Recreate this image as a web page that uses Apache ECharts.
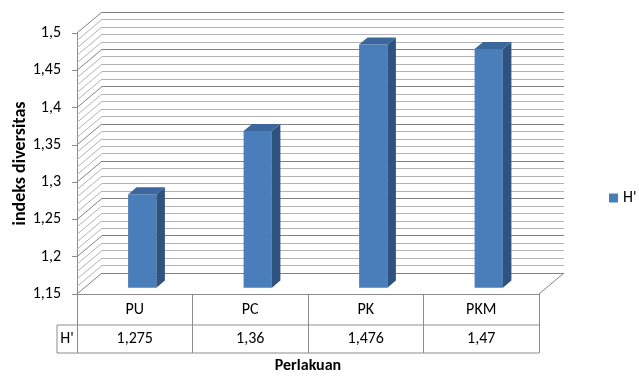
<!DOCTYPE html>
<html>
<head>
<meta charset="utf-8">
<script src="https://cdn.jsdelivr.net/npm/echarts@6/dist/echarts.min.js"></script>
<style>
  html, body { margin: 0; padding: 0; background: #fff; }
  #chart { width: 639px; height: 376px; }
</style>
</head>
<body>
<div id="chart"></div>
<script>
// Treatments and their diversity index (H')
const categories = ['PU', 'PC', 'PK', 'PKM'];
const hValues = [1.275, 1.36, 1.476, 1.47];
const seriesName = "H'";

// Value axis range
const Y_MIN = 1.15;
const Y_MAX = 1.5;
const Y_STEP = 0.05;
const Y_MINOR = 0.01;

// Depth of the 3D box (pixels from front plane to back wall)
const DX = 25, DY = -21;
const FONT = "Carlito, Lato, 'Liberation Sans', sans-serif";
const FS = 16;
const MAJOR = '#828282', MINOR = '#b3b3b3', EDGE = '#8c8c8c';

// levels for the hatched side wall, one per minor step
const wallLevels = [];
for (let k = 0; Y_MIN + k * Y_MINOR <= Y_MAX + 1e-9; k++) {
  wallLevels.push([0, +(Y_MIN + k * Y_MINOR).toFixed(2)]);
}

const fmt = v => String(+(+v).toFixed(3)).replace('.', ',');

const chart = echarts.init(document.getElementById('chart'), null, { renderer: 'canvas' });

chart.setOption({
  animation: false,
  textStyle: { fontFamily: FONT },
  legend: {
    left: 604, top: 185,
    itemWidth: 9, itemHeight: 9, itemGap: 4,
    textStyle: { fontSize: FS, color: '#000', fontFamily: FONT },
    data: [{ name: seriesName, icon: 'rect', itemStyle: { color: '#4a7ebb' } }]
  },
  grid: [
    // front plane
    { left: 77, right: 100, top: 33, bottom: 82, outerBoundsMode: 'none', containLabel: false },
    // back wall
    { left: 102, right: 75, top: 12, bottom: 103, outerBoundsMode: 'none', containLabel: false }
  ],
  xAxis: [
    {
      gridIndex: 0, type: 'category', data: categories,
      name: 'Perlakuan', nameLocation: 'middle', nameGap: 64,
      nameTextStyle: { fontSize: 16, fontWeight: 'bold', color: '#000', fontFamily: FONT },
      axisLine: { show: true, lineStyle: { color: EDGE, width: 1 } },
      axisTick: { show: true, length: 59, interval: 0, lineStyle: { color: EDGE } },
      axisLabel: { margin: 8, fontSize: FS, color: '#000', fontFamily: FONT, interval: 0 },
      splitLine: { show: false }
    },
    { gridIndex: 1, type: 'value', min: 0, max: 1, show: false }
  ],
  yAxis: [
    {
      gridIndex: 0, type: 'value', min: Y_MIN, max: Y_MAX, interval: Y_STEP,
      name: 'indeks diversitas', nameLocation: 'middle', nameGap: 48, nameMoveOverlap: false,
      nameTextStyle: { fontSize: 18, fontWeight: 'bold', color: '#000', fontFamily: FONT },
      axisLine: { show: true, lineStyle: { color: EDGE, width: 1 } },
      axisTick: { show: true, length: 5, lineStyle: { color: EDGE } },
      axisLabel: { fontSize: FS, color: '#000', margin: 16, fontFamily: FONT, formatter: v => fmt(v) },
      splitLine: { show: false }
    },
    {
      gridIndex: 1, type: 'value', min: Y_MIN, max: Y_MAX, interval: Y_STEP,
      axisLine: { show: false }, axisTick: { show: false }, axisLabel: { show: false },
      splitLine: { show: true, lineStyle: { color: MAJOR, width: 1.2 } },
      minorTick: { show: false, splitNumber: 5 },
      minorSplitLine: { show: true, lineStyle: { color: MINOR, width: 1.2 } }
    }
  ],
  series: [
    // hatched left wall and the floor's right edge
    {
      type: 'custom', xAxisIndex: 0, yAxisIndex: 0, silent: true, z: 1,
      data: wallLevels,
      renderItem: (params, api) => {
        const cs = params.coordSys;
        const v = api.value(1);
        const y = api.coord([0, v])[1];
        const major = Math.round(v * 100) % 5 === 0;
        const children = [{
          type: 'line',
          shape: { x1: cs.x, y1: y, x2: cs.x + DX, y2: y + DY },
          style: { stroke: major ? MAJOR : MINOR, lineWidth: 1 }
        }];
        if (params.dataIndex === 0) {
          children.push({
            type: 'line',
            shape: { x1: cs.x + cs.width, y1: y, x2: cs.x + cs.width + DX, y2: y + DY },
            style: { stroke: MAJOR, lineWidth: 1 }
          });
        }
        return { type: 'group', children };
      }
    },
    // 3D columns
    {
      type: 'custom', name: seriesName, xAxisIndex: 0, yAxisIndex: 0, z: 5,
      data: hValues.map((v, i) => [i, v]),
      renderItem: (params, api) => {
        const i = api.value(0), v = api.value(1);
        const top = api.coord([i, v]);
        const base = api.coord([i, Y_MIN]);
        const bw = api.size([1, 0])[0] * 0.245;
        const sx = DX * 0.3, sy = DY * 0.3;
        const dx = DX * 0.34, dy = DY * 0.34;
        const x0 = top[0] + sx - bw / 2, x1 = x0 + bw;
        const yt = top[1] + sy, yb = base[1] + sy;
        return {
          type: 'group',
          children: [
            { type: 'rect', shape: { x: x0, y: yt, width: bw, height: yb - yt },
              style: { fill: '#4a7ebb' } },
            { type: 'polygon', shape: { points: [[x1, yt], [x1 + dx, yt + dy], [x1 + dx, yb + dy], [x1, yb]] },
              style: { fill: '#30527f' } },
            { type: 'polygon', shape: { points: [[x0, yt], [x0 + dx, yt + dy], [x1 + dx, yt + dy], [x1, yt]] },
              style: { fill: '#3c679c' } }
          ]
        };
      }
    },
    // data table: value row under the category row
    {
      type: 'custom', xAxisIndex: 0, yAxisIndex: 0, silent: true, z: 3,
      data: hValues.map((v, i) => [i, v]),
      renderItem: (params, api) => {
        const i = api.value(0), v = api.value(1);
        const p = api.coord([i, Y_MIN]);
        const bw = api.size([1, 0])[0];
        const xl = p[0] - bw / 2, xr = p[0] + bw / 2;
        const yRow = p[1] + 31, yEnd = p[1] + 59;
        const children = [
          { type: 'line', shape: { x1: xl, y1: yRow, x2: xr, y2: yRow }, style: { stroke: EDGE, lineWidth: 1 } },
          { type: 'line', shape: { x1: xl, y1: yEnd, x2: xr, y2: yEnd }, style: { stroke: EDGE, lineWidth: 1 } },
          { type: 'text', x: p[0], y: (yRow + yEnd) / 2,
            style: { text: fmt(v), fill: '#000', font: FS + 'px ' + FONT, textAlign: 'center', textVerticalAlign: 'middle' } }
        ];
        if (i === 0) {
          const hx = xl - 20;
          children.push(
            { type: 'line', shape: { x1: hx, y1: yRow, x2: xl, y2: yRow }, style: { stroke: EDGE, lineWidth: 1 } },
            { type: 'line', shape: { x1: hx, y1: yEnd, x2: xl, y2: yEnd }, style: { stroke: EDGE, lineWidth: 1 } },
            { type: 'line', shape: { x1: hx, y1: yRow, x2: hx, y2: yEnd }, style: { stroke: EDGE, lineWidth: 1 } },
            { type: 'text', x: (hx + xl) / 2, y: (yRow + yEnd) / 2,
              style: { text: seriesName, fill: '#000', font: FS + 'px ' + FONT, textAlign: 'center', textVerticalAlign: 'middle' } }
          );
        }
        return { type: 'group', children };
      }
    }
  ]
});
</script>
</body>
</html>
